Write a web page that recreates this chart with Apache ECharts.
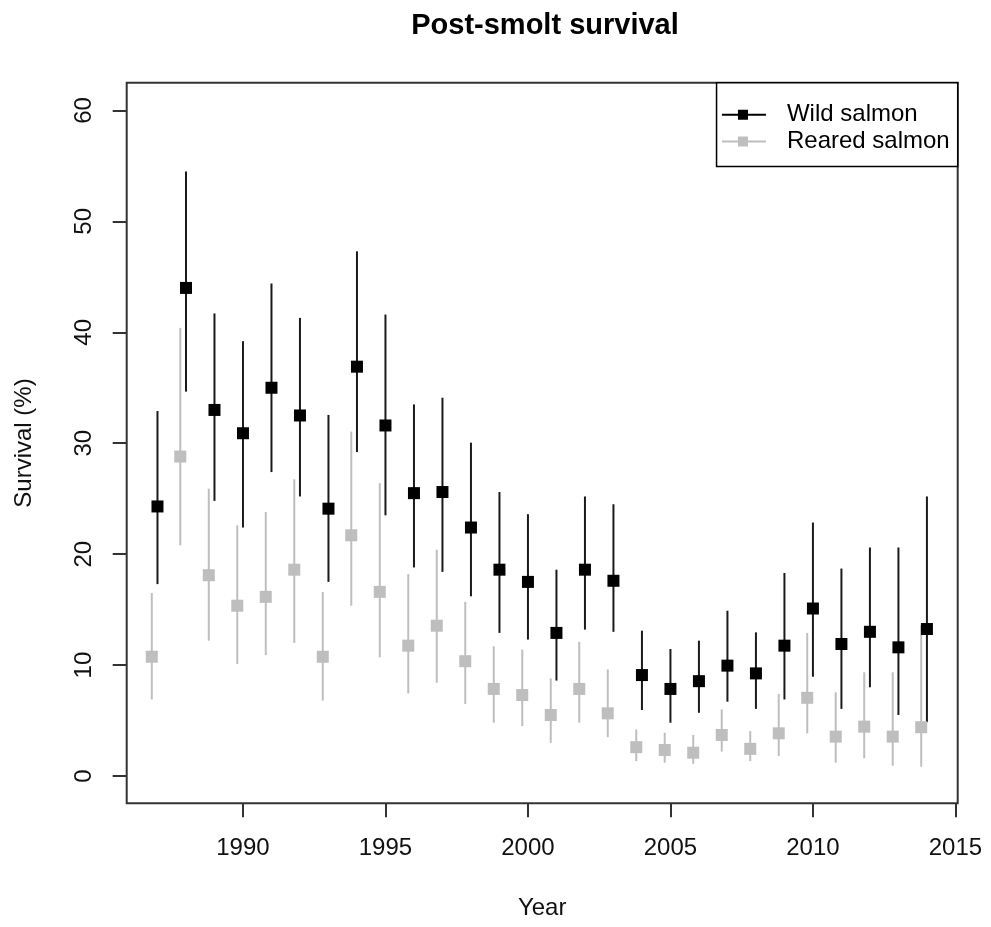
<!DOCTYPE html>
<html>
<head>
<meta charset="utf-8">
<script src="https://cdn.jsdelivr.net/npm/echarts@6/dist/echarts.min.js"></script>
<style>
html,body{margin:0;padding:0;background:#fff;}
#chart{width:991px;height:927px;}
</style>
</head>
<body>
<div id="chart"></div>
<script>
const years = [1987,1988,1989,1990,1991,1992,1993,1994,1995,1996,1997,1998,1999,2000,2001,2002,2003,2004,2005,2006,2007,2008,2009,2010,2011,2012,2013,2014];
const wildMean = [24.3,44.0,33.0,30.9,35.0,32.5,24.1,36.9,31.6,25.5,25.6,22.4,18.6,17.5,12.9,18.6,17.6,9.1,7.85,8.55,9.95,9.25,11.75,15.1,11.9,13.0,11.6,13.25];
const wildHigh = [32.9,54.5,41.7,39.2,44.4,41.3,32.55,47.3,41.6,33.5,34.1,30.05,25.6,23.6,18.6,25.2,24.5,13.1,11.45,12.2,14.9,12.95,18.3,22.85,18.7,20.6,20.6,25.2];
const wildLow = [17.3,34.65,24.8,22.4,27.4,25.2,17.5,29.2,23.5,18.8,18.4,16.2,12.9,12.3,8.6,13.2,13.0,5.95,4.8,5.7,6.7,6.05,6.9,8.95,6.05,8.0,5.5,4.85];
const rearedMean = [10.75,28.8,18.1,15.35,16.15,18.6,10.75,21.7,16.6,11.75,13.55,10.35,7.85,7.3,5.5,7.85,5.65,2.6,2.35,2.1,3.7,2.45,3.85,7.05,3.55,4.45,3.55,4.4];
const rearedHigh = [16.5,40.4,25.9,22.6,23.8,26.75,16.6,31.05,26.4,18.2,20.4,15.7,11.7,11.4,8.8,12.1,9.6,4.2,3.9,3.7,6.0,4.05,7.4,12.9,7.55,9.35,9.35,13.6];
const rearedLow = [6.9,20.8,12.2,10.1,10.9,12.0,6.8,15.35,10.7,7.45,8.4,6.5,4.8,4.5,3.0,4.8,3.5,1.35,1.2,1.1,2.2,1.35,1.8,3.85,1.2,1.6,0.93,0.84];
const xTicks = [1990,1995,2000,2005,2010,2015];
const yTicks = [0,10,20,30,40,50,60];
const seriesNames = ['Wild salmon','Reared salmon'];
const titleText = 'Post-smolt survival';
const xName = 'Year';
const yName = 'Survival (%)';

const rearedOffset = -0.2;
const WILD = '#000000', WILD_BAR = '#1a1a1a', REARED = '#bebebe';
const FONT = '"Liberation Sans", Arial, sans-serif';

const wildBars = years.map((y,i)=>[y, wildLow[i], wildHigh[i]]);
const rearedBars = years.map((y,i)=>[y + rearedOffset, rearedLow[i], rearedHigh[i]]);
const wildPts = years.map((y,i)=>[y, wildMean[i]]);
const rearedPts = years.map((y,i)=>[y + rearedOffset, rearedMean[i]]);

function barRenderer(color){
  return function(params, api){
    const p1 = api.coord([api.value(0), api.value(1)]);
    const p2 = api.coord([api.value(0), api.value(2)]);
    return {type:'line', shape:{x1:p1[0], y1:p1[1], x2:p2[0], y2:p2[1]},
      style:{stroke:color, lineWidth:2}};
  };
}

const legendIcon = 'path://M0,9 L44,9 L44,11 L0,11 Z M16,5 L26,5 L26,15 L16,15 Z';

const chart = echarts.init(document.getElementById('chart'), null, {renderer:'canvas'});
chart.setOption({
  animation:false,
  backgroundColor:'#fff',
  textStyle:{fontFamily:FONT},
  title:{
    text:titleText, left:540, top:6, textAlign:'center',
    textStyle:{fontFamily:FONT, fontSize:29, fontWeight:'bold', color:'#000'}
  },
  legend:{
    orient:'vertical', right:33.3, top:82.7,
    padding:[20,8,13,5.4],
    itemGap:2.7, itemWidth:44, itemHeight:10,
    backgroundColor:'#fff', borderColor:'#000', borderWidth:1.5, borderRadius:0,
    textStyle:{fontFamily:FONT, fontSize:24, color:'#000', lineHeight:24, padding:[0,0,0,16]},
    data:[
      {name:seriesNames[0], icon:legendIcon, itemStyle:{color:WILD}},
      {name:seriesNames[1], icon:legendIcon, itemStyle:{color:REARED}}
    ]
  },
  grid:{
    left:126.7, right:33.3, top:82.7, bottom:123.7,
    show:true, borderColor:'#333', borderWidth:2, backgroundColor:'transparent'
  },
  xAxis:{
    type:'value', min:1985.92, max:2015.08,
    name:xName, nameLocation:'middle', nameGap:93,
    nameTextStyle:{fontFamily:FONT, fontSize:24, color:'#111'},
    axisLine:{show:false, onZero:false},
    splitLine:{show:false},
    axisTick:{show:true, inside:false, length:14, customValues:xTicks, lineStyle:{color:'#333', width:2}},
    axisLabel:{show:true, margin:33, customValues:xTicks, fontFamily:FONT, fontSize:24, color:'#111',
      formatter:(v)=>String(v)}
  },
  yAxis:{
    type:'value', min:-2.46, max:62.5,
    name:yName, nameLocation:'middle', nameGap:90,
    nameTextStyle:{fontFamily:FONT, fontSize:24, color:'#111'},
    axisLine:{show:false, onZero:false},
    splitLine:{show:false},
    axisTick:{show:true, inside:false, length:14, customValues:yTicks, lineStyle:{color:'#333', width:2}},
    axisLabel:{show:true, rotate:90, margin:30, customValues:yTicks, fontFamily:FONT, fontSize:24, color:'#111',
      formatter:(v)=>String(v)}
  },
  series:[
    {name:'wild-err', type:'custom', renderItem:barRenderer(WILD_BAR), data:wildBars, silent:true, clip:false, encode:{x:0,y:[1,2]}},
    {name:seriesNames[0], type:'scatter', data:wildPts, symbol:'rect', symbolSize:12, itemStyle:{color:WILD, opacity:1}, silent:true},
    {name:'reared-err', type:'custom', renderItem:barRenderer(REARED), data:rearedBars, silent:true, clip:false, encode:{x:0,y:[1,2]}},
    {name:seriesNames[1], type:'scatter', data:rearedPts, symbol:'rect', symbolSize:12, itemStyle:{color:REARED, opacity:1}, silent:true}
  ]
});
</script>
</body>
</html>
